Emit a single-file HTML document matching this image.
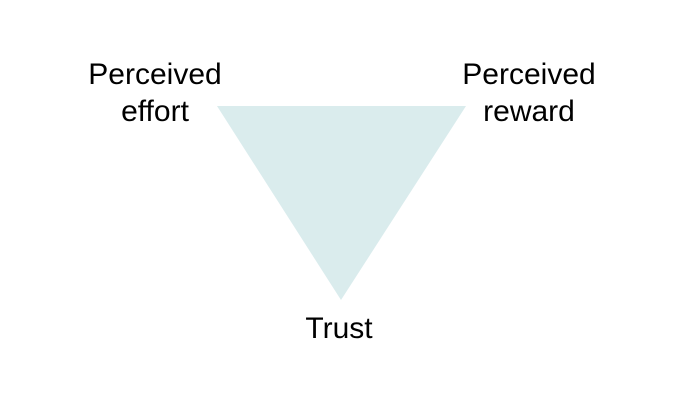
<!DOCTYPE html>
<html><head><style>
html,body{margin:0;padding:0;background:#fff;}
body{width:673px;height:402px;position:relative;overflow:hidden;font-family:"Liberation Sans",sans-serif;color:#000;}
.t{position:absolute;font-size:30px;line-height:37px;text-align:center;white-space:nowrap;}
</style></head><body>
<svg width="673" height="402" style="position:absolute;left:0;top:0">
<polygon points="217,106 466,106 341,300" fill="#daeced"/>
</svg>
<div class="t" style="left:79px;top:56px;width:152px;">Perceived<br>effort</div>
<div class="t" style="left:453px;top:56px;width:152px;">Perceived<br>reward</div>
<div class="t" style="left:279px;top:310px;width:120px;">Trust</div>
</body></html>
